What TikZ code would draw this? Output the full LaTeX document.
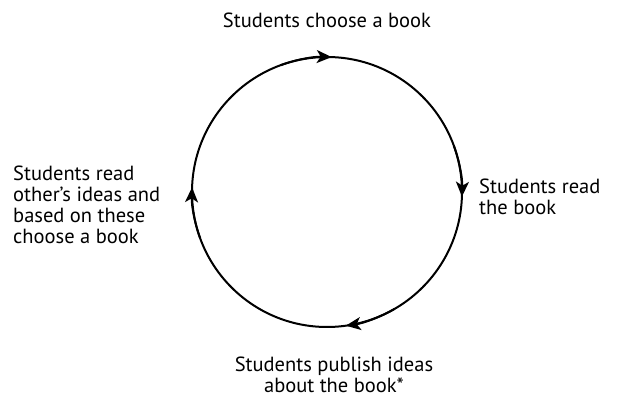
\documentclass[tikz,border=0pt]{standalone}
\usepackage{fontspec}
\setmainfont{PT Sans}
\usetikzlibrary{arrows.meta}

\begin{document}
\begin{tikzpicture}[x=1pt,y=-1pt,
    ring/.style={line width=2pt},
    tip/.style={line width=2pt,-{Stealth[length=15pt,width=13pt,inset=4pt]}},
    lbl/.style={font=\fontsize{20.5}{21}\selectfont,inner sep=0pt,align=left}]
  \useasboundingbox (0,0) rectangle (619,398);
  \coordinate (ctr) at (327,192);
  \draw[ring] (ctr) circle[radius=135pt];
  % arrow heads on the ring
  \draw[tip] (ctr) ++(110:135pt) arc[start angle=110,end angle=88,radius=135pt];
  \draw[tip] (ctr) ++(20:135pt) arc[start angle=20,end angle=-2,radius=135pt];
  \draw[tip] (ctr) ++(-60:135pt) arc[start angle=-60,end angle=-82,radius=135pt];
  \draw[tip] (ctr) ++(200:135pt) arc[start angle=200,end angle=178,radius=135pt];
  % labels
  \node[lbl,align=center] (choose) at (327,20) {Students choose a book};
  \node[lbl,anchor=west] (read) at (479,197) {Students read\\the book};
  \node[lbl,align=center] (publish) at (334,375) {Students publish ideas\\about the book*};
  \node[lbl,anchor=west] (others) at (13,205) {Students read\\other’s ideas and\\based on these\\choose a book};
\end{tikzpicture}
\end{document}
